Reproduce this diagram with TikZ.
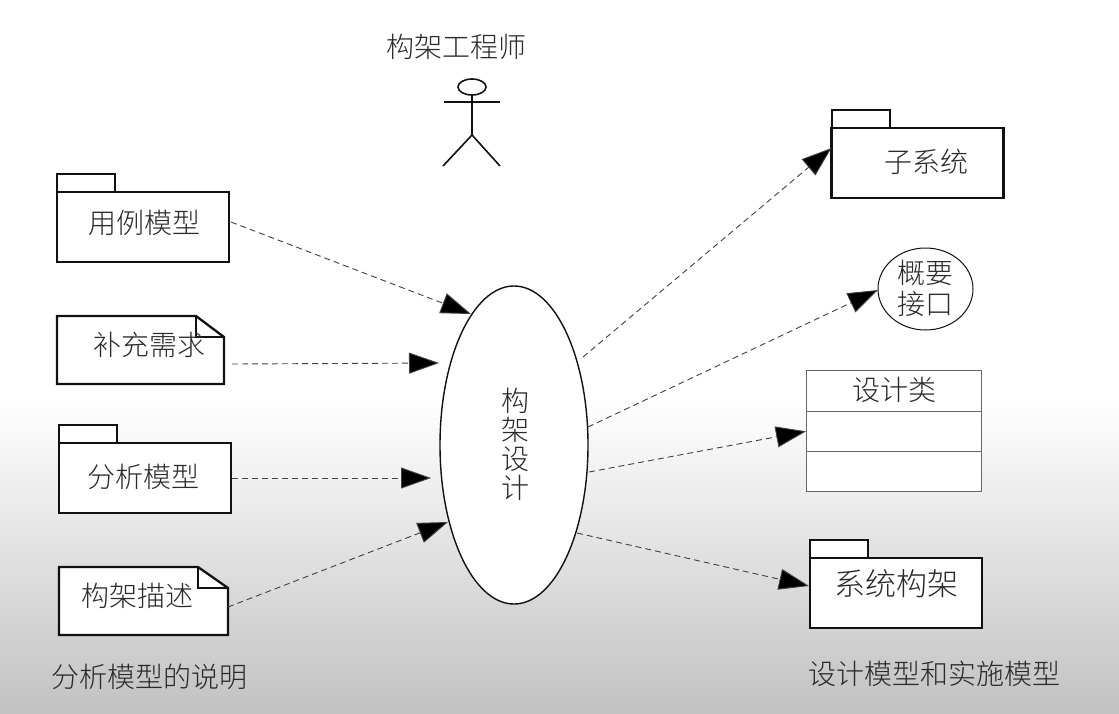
\documentclass[tikz,border=0pt]{standalone}
\usepackage{fontspec}
\newfontfamily\cjk{Noto Sans CJK SC Light}
\usetikzlibrary{arrows.meta,shapes.geometric}
\definecolor{ink}{HTML}{111111}
\definecolor{txt}{HTML}{2A2A2A}
\tikzset{
  x=1pt,y=-1pt,
  heavy/.style={draw=ink,line width=2.3pt,fill=white,inner sep=0pt,outer sep=0pt},
  pkgbody/.style={heavy,rectangle,minimum width=172pt,minimum height=70pt},
  pkgtab/.style={heavy,rectangle,minimum width=58pt,minimum height=18pt,anchor=south west},
  notebase/.style={rectangle,inner sep=0pt,outer sep=0pt},
  lbl/.style={text=txt,inner sep=0pt,font=\cjk\fontsize{28}{29}\selectfont,align=center},
  flow/.style={draw=ink!80,line width=0.9pt,dash pattern=on 6pt off 4pt,
    -{Triangle[length=30pt,width=21pt,fill=black]}},
  classrow/.style={draw=black!60,line width=0.9pt,fill=white,rectangle,minimum width=175pt,minimum height=40.3pt,inner sep=0pt,outer sep=0pt},
  limb/.style={draw=ink,line width=1.6pt}
}
\begin{document}
\begin{tikzpicture}
\useasboundingbox (0,0) rectangle (1119,713);
\fill[white] (0,0) rectangle (1119,400);
\fill[top color=white,bottom color=black!24] (0,400) rectangle (1119,713);

% packages
\node[pkgtab] (t1) at (57,192) {};
\node[pkgbody] (u1) at (143,227) {};
\node[lbl] (u1t) at (144,223) {用例模型};
\node[pkgtab] (t2) at (59,443) {};
\node[pkgbody] (p2) at (145,478) {};
\node[lbl] (p2t) at (143,477) {分析模型};
\node[pkgtab] (t3) at (832,128) {};
\node[pkgbody] (p3) at (917.5,163) {};
\node[lbl] (p3t) at (926,162) {子系统};
\node[pkgtab] (t4) at (810,558) {};
\node[pkgbody] (p4) at (896,593) {};
\node[lbl,font=\cjk\fontsize{31}{32}\selectfont] (p4t) at (896,584) {系统构架};

% notes
\node[notebase,minimum width=167pt,minimum height=68pt] (n1) at (140.5,350) {};
\draw[heavy] (n1.north west) -- ([xshift=-28pt]n1.north east) -- ([yshift=-21pt]n1.north east)
  -- (n1.south east) -- (n1.south west) -- cycle;
\draw[draw=ink,line width=2.3pt] ([xshift=-28pt]n1.north east) -- ([xshift=-28pt,yshift=-21pt]n1.north east) -- ([yshift=-21pt]n1.north east);
\node[lbl] (n1t) at (149,345) {补充需求};
\node[notebase,minimum width=169pt,minimum height=68pt] (n2) at (143.5,601) {};
\draw[heavy] (n2.north west) -- ([xshift=-30pt]n2.north east) -- ([yshift=-21pt]n2.north east)
  -- (n2.south east) -- (n2.south west) -- cycle;
\draw[draw=ink,line width=2.3pt] ([xshift=-30pt]n2.north east) -- ([xshift=-30pt,yshift=-21pt]n2.north east) -- ([yshift=-21pt]n2.north east);
\node[lbl] (n2t) at (137,596) {构架描述};

% central ellipse
\node[ellipse,draw=ink,line width=1.4pt,fill=white,minimum width=148pt,minimum height=318pt,inner sep=0pt,outer sep=0pt] (ell) at (514,445) {};
\node[lbl] (ellt) at (515,444) {构\\架\\设\\计};

% interface
\node[ellipse,draw=ink,line width=1pt,fill=white,minimum width=95pt,minimum height=82pt,inner sep=0pt,outer sep=0pt] (ifc) at (925.5,289) {};
\node[lbl] (ifct) at (925,288) {概要\\[2pt]接口};

% class
\node[classrow] (c1) at (893.5,391) {};
\node[classrow] (c2) at (893.5,431.3) {};
\node[classrow] (c3) at (893.5,471.6) {};
\node[lbl] (c1t) at (894,390) {设计类};

% actor
\node[ellipse,draw=ink,line width=1.6pt,minimum width=28pt,minimum height=16pt,inner sep=0pt,outer sep=0pt] (head) at (472,87) {};
\coordinate (hip) at (472,135);
\coordinate (handl) at (444,102);
\coordinate (handr) at (500,102);
\coordinate (footl) at (443,166);
\coordinate (footr) at (500,166);
\draw[limb] (head.south) -- (hip);
\draw[limb] (handl) -- (handr);
\draw[limb] (footl) -- (hip) -- (footr);
\node[lbl] (actor) at (456,47) {构架工程师};

% connectors
\draw[flow] ([shift={(2,-5)}]u1.east) -- ([shift={(-43,-131)}]ell.center);
\draw[flow] ([shift={(8,14)}]n1.east) -- ([shift={(-75,-82)}]ell.center);
\draw[flow] ([shift={(1,0)}]p2.east) -- ([shift={(-83,33)}]ell.center);
\draw[flow] ([shift={(0,6)}]n2.east) -- ([shift={(-66,77)}]ell.center);
\draw[flow] ([shift={(69,-88)}]ell.center) -- ([shift={(0,-15)}]p3.west);
\draw[flow] ([shift={(74,-18)}]ell.center) -- ([shift={(0,1)}]ifc.west);
\draw[flow] ([shift={(75,27)}]ell.center) -- (c2.west);
\draw[flow] ([shift={(63,88)}]ell.center) -- ([shift={(-1,-7)}]p4.west);

% captions
\node[lbl] (capl) at (149,677) {分析模型的说明};
\node[lbl] (capr) at (934,674) {设计模型和实施模型};
\end{tikzpicture}
\end{document}
